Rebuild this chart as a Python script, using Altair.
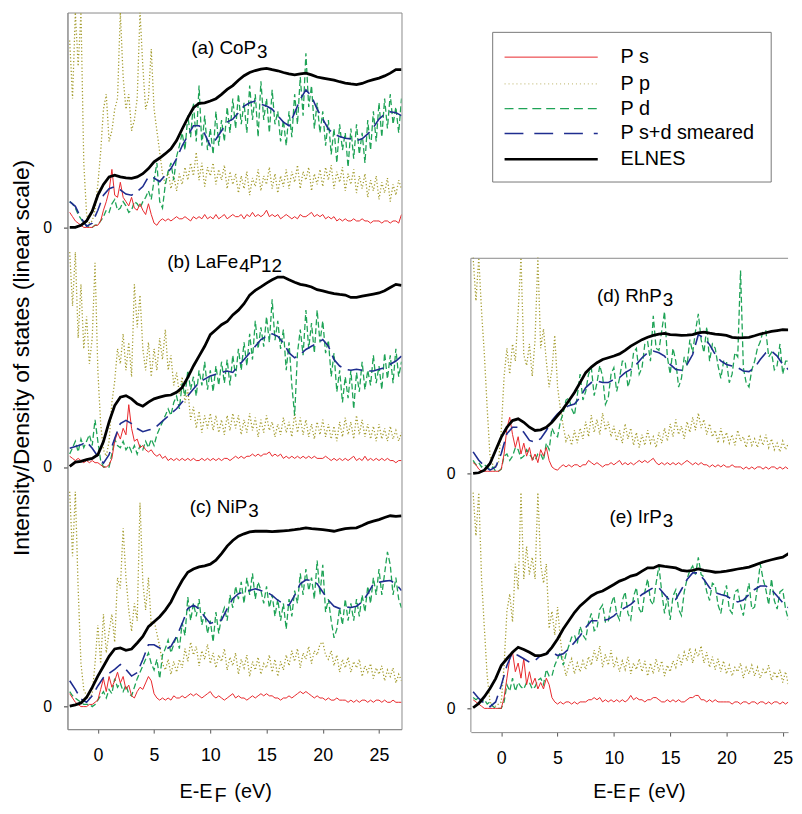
import altair as alt
import pandas as pd

# ---------------------------------------------------------------- energy grids (eV)
E_FINE = [round(-2.5 + 0.25 * i, 2) for i in range(119)]    # P s, P p, P d
E_COARSE = [round(-2.5 + 0.5 * i, 2) for i in range(60)]    # smeared, ELNES

SERIES = ["P s", "P p", "P d", "P s+d smeared", "ELNES"]
PANELS = ["a", "b", "c", "d", "e"]

# ---------------------------------------------------------------- (a) CoP3
A_EL = [0, 0, 1, 3, 7.5, 15, 20, 23.5, 24.3, 23.5,
        23, 22.8, 23.5, 25, 27.4, 30.5, 32.3, 34.3, 36.6, 40.4,
        45.8, 51, 55.7, 57.7, 58, 58.8, 59.9, 61.9, 64.2, 66,
        68.5, 70.6, 72.1, 73, 73.7, 74, 73.4, 72.9, 72.1, 71.5,
        71, 71.4, 71.8, 71, 70, 69.5, 69, 68.5, 67.8, 67.2,
        66.8, 66.5, 67, 68, 68.8, 69.5, 70.5, 71.8, 73.4, 73.4]
A_SM = [12, 9.8, 4.4, 0.6, 2, 8, 15, 18, 19, 17.5,
        15.5, 15, 16.7, 19, 23.6, 23, 21.3, 24.3, 27.4, 32,
        38, 42.7, 47.3, 47.3, 43.5, 38, 41, 45, 49, 50.4,
        53.4, 56.5, 58, 58.8, 57.3, 56.5, 55, 52, 49, 47.3,
        53.4, 59.6, 64, 61, 55, 50.4, 45.8, 43.5, 42.3, 41.5,
        41.2, 40.4, 41.2, 43.5, 46.5, 50.4, 52.7, 53.8, 53.4, 52]
A_PD = [12, 11, 9, 6, 4, 2, 1, 0, 0, 1,
        1, 3, 5, 8, 7, 11, 13, 8, 9, 12,
        10, 7, 8, 12, 11, 9, 12, 14, 17, 13,
        22, 30, 12, 9, 20, 26, 30, 22, 33, 38,
        44, 36, 52, 42, 58, 40, 66, 38, 52, 36,
        46, 34, 54, 38, 50, 40, 56, 44, 60, 46,
        62, 48, 58, 44, 66, 50, 62, 42, 68, 50,
        60, 44, 64, 48, 54, 40, 50, 38, 54, 42,
        62, 48, 70, 52, 81, 56, 66, 46, 58, 44,
        54, 38, 50, 34, 46, 30, 48, 36, 44, 28,
        46, 32, 48, 34, 44, 30, 50, 36, 54, 40,
        58, 42, 60, 46, 62, 48, 56, 44, 60]
A_PP = [87, 60, 100, 75, 100, 30, 6, 2, 3, 8,
        20, 35, 55, 62, 40, 45, 55, 60, 100, 70,
        55, 62, 45, 50, 60, 100, 75, 55, 60, 83,
        55, 45, 35, 25, 20, 26, 18, 24, 17, 25,
        20, 28, 22, 30, 24, 35, 22, 30, 19, 28,
        24, 30, 20, 27, 22, 29, 18, 26, 20, 25,
        16, 24, 18, 26, 15, 23, 19, 27, 17, 24,
        20, 28, 18, 25, 16, 24, 19, 27, 18, 26,
        21, 29, 18, 26, 22, 28, 17, 25, 20, 27,
        19, 28, 22, 29, 18, 26, 21, 28, 17, 25,
        20, 27, 16, 24, 18, 25, 14, 22, 17, 24,
        13, 21, 16, 23, 12, 20, 15, 22, 18]
A_PS = [7, 5, 3, 2, 1, 0, 0, 0, 0, 1,
        1, 3, 8, 12, 17, 27, 15, 14, 21, 14,
        12, 10, 14, 9, 8, 11, 8, 6, 11, 6,
        2, 1, 3, 4, 3, 4, 3, 4, 5, 4,
        4, 5, 4, 3, 5, 4, 5, 4, 6, 4,
        5, 4, 6, 4, 5, 6, 4, 5, 6, 5,
        5, 6, 4, 6, 5, 7, 5, 6, 5, 6,
        8, 5, 6, 5, 6, 4, 5, 6, 5, 4,
        5, 4, 6, 5, 5, 6, 7, 5, 6, 5,
        6, 4, 5, 4, 5, 3, 4, 3, 4, 3,
        3, 4, 3, 3, 4, 3, 3, 2, 3, 3,
        3, 2, 3, 3, 2, 3, 3, 2, 6]

# ---------------------------------------------------------------- (b) LaFe4P12
B_EL = [0.3, 2.3, 2.6, 3.4, 4, 5.7, 11.8, 21, 28.6, 32.5,
        33.2, 31.7, 29.4, 28.3, 30.2, 31.7, 32.5, 33.2, 33.5, 34.8,
        37, 41.7, 47, 51.6, 56.2, 61.6, 63.9, 66.2, 67.7, 70.8,
        73, 76, 80, 82.2, 83.8, 85.6, 87.1, 88.4, 88.4, 87.1,
        86, 85, 84.5, 83.8, 82.5, 82, 81.3, 80.7, 80.3, 80,
        78.9, 78.9, 79.5, 80, 80.5, 81, 82, 83.5, 85, 84.5]
B_SM = [8.7, 9.5, 10.3, 11.8, 8.7, 4.9, 1.8, 5.7, 13.3, 20.2,
        21.7, 20.2, 17.9, 16.4, 17.2, 17.9, 20.2, 22.5, 24.8, 27.1,
        30.2, 33.2, 36.3, 39.4, 40.9, 42.4, 43.2, 44, 44.7, 44,
        47, 50, 53.1, 56.2, 59.3, 60.8, 62, 60.8, 57.7, 53.1,
        50.8, 52.4, 54.7, 56.2, 57.7, 59.3, 56.2, 50, 47, 45.5,
        45, 45.5, 45, 44.7, 44.7, 45.5, 46.2, 47.8, 49.3, 51.6]
B_PD = [6, 9, 12, 7, 13, 9, 12, 15, 10, 22,
        12, 3, 0, 0, 0, 6, 13, 10, 9, 12,
        8, 10, 7, 10, 6, 10, 8, 12, 9, 13,
        10, 15, 18, 21, 24, 27, 24, 30, 33, 27,
        39, 33, 45, 36, 42, 33, 45, 38, 49, 36,
        45, 35, 47, 38, 49, 39, 50, 38, 52, 42,
        55, 45, 58, 47, 62, 50, 68, 55, 65, 56,
        70, 58, 78, 59, 68, 55, 64, 45, 58, 38,
        24, 53, 64, 52, 73, 55, 67, 53, 73, 58,
        68, 53, 59, 42, 53, 35, 45, 30, 42, 32,
        45, 27, 44, 35, 49, 36, 45, 38, 52, 39,
        47, 36, 53, 41, 52, 39, 55, 42, 49]
B_PP = [100, 75, 100, 60, 85, 55, 70, 48, 60, 95,
        45, 20, 8, 5, 12, 30, 40, 55, 48, 62,
        45, 58, 42, 85, 65, 80, 55, 45, 58, 42,
        55, 45, 60, 50, 64, 45, 52, 38, 44, 34,
        42, 30, 36, 22, 28, 18, 26, 16, 24, 18,
        25, 17, 24, 16, 22, 15, 24, 17, 25, 18,
        24, 15, 22, 16, 25, 17, 23, 14, 22, 16,
        24, 17, 21, 14, 20, 15, 23, 16, 21, 14,
        25, 16, 23, 15, 22, 14, 20, 13, 21, 15,
        22, 14, 20, 13, 19, 12, 21, 14, 23, 15,
        21, 13, 24, 15, 22, 14, 20, 13, 19, 12,
        20, 13, 18, 12, 19, 13, 17, 12, 16]
B_PS = [5, 4, 3, 4, 3, 2, 3, 2, 3, 2,
        2, 1, 0, 0, 1, 4, 12, 16, 13, 18,
        15, 29, 18, 12, 13, 9, 10, 8, 7, 8,
        6, 5, 6, 4, 5, 3, 4, 3, 4, 3,
        4, 3, 4, 3, 4, 3, 3, 4, 3, 4,
        3, 4, 3, 4, 3, 4, 4, 3, 4, 5,
        4, 5, 4, 5, 5, 6, 5, 6, 5, 6,
        6, 7, 5, 6, 5, 6, 4, 5, 4, 5,
        4, 5, 4, 5, 4, 5, 4, 5, 4, 4,
        4, 5, 4, 3, 4, 3, 4, 3, 4, 3,
        4, 5, 3, 4, 3, 5, 3, 4, 3, 4,
        3, 4, 3, 4, 3, 3, 2, 3, 3]

# ---------------------------------------------------------------- (c) NiP3
C_EL = [0.2, 0.8, 1.7, 4.3, 8.9, 14.2, 18.8, 23.4, 26.8, 27.3,
        26.2, 26.8, 29.6, 32.6, 37.2, 39.5, 41.8, 44.9, 48.7, 54,
        58.7, 62.5, 64, 65, 65.5, 66.3, 68.1, 71.2, 74.7, 77.3,
        79.3, 80.4, 81.3, 81.6, 81.6, 81.6, 81.4, 81.6, 81.8, 82,
        82.3, 82.7, 83.2, 82.8, 82.6, 82.4, 82, 81.6, 82.2, 82.8,
        83, 83.2, 84.3, 85.5, 86.3, 87, 88, 88.8, 88.5, 88.8]
C_SM = [12, 8, 3.5, 2, 5, 9.6, 13.5, 15.5, 17.3, 19.6,
        17.3, 14.2, 15.8, 21.9, 28.8, 28.8, 27.3, 26.5, 28, 32.6,
        38.7, 45.6, 47.2, 45.6, 41.8, 38.7, 39.5, 40.3, 45.6, 50.2,
        52.5, 53.3, 54, 54.8, 54, 53.3, 51.8, 49.5, 47.9, 47.2,
        51.8, 57.1, 59, 58.7, 57.1, 53.3, 49.5, 46.7, 45.6, 46.4,
        46.1, 46.7, 48.7, 52.5, 57.1, 57.9, 58.4, 58.7, 57.1, 54]
C_PD = [7, 5, 4, 3, 2, 1, 1, 1, 0, 1,
        3, 5, 7, 4, 8, 6, 13, 9, 11, 7,
        10, 6, 5, 9, 13, 16, 19, 22, 25, 20,
        17, 22, 13, 24, 27, 31, 25, 29, 33, 27,
        39, 33, 51, 40, 48, 42, 50, 38, 44, 34,
        40, 30, 44, 34, 42, 46, 40, 52, 46, 56,
        50, 58, 48, 60, 52, 62, 50, 58, 54, 48,
        56, 46, 52, 42, 50, 40, 48, 36, 50, 42,
        54, 48, 62, 52, 64, 54, 60, 50, 68, 52,
        66, 44, 50, 40, 32, 36, 46, 38, 50, 40,
        48, 40, 50, 42, 52, 44, 56, 48, 60, 52,
        64, 52, 62, 72, 66, 52, 60, 50, 46]
C_PP = [100, 70, 100, 55, 20, 8, 5, 4, 6, 20,
        38, 20, 43, 25, 35, 43, 30, 60, 55, 83,
        60, 45, 35, 48, 40, 95, 58, 45, 60, 38,
        40, 34, 28, 20, 17, 22, 15, 21, 16, 22,
        18, 27, 21, 30, 24, 28, 19, 26, 22, 29,
        20, 25, 18, 24, 21, 27, 17, 23, 19, 25,
        15, 22, 18, 24, 14, 21, 17, 23, 15, 20,
        18, 24, 16, 22, 14, 21, 17, 24, 19, 26,
        21, 27, 18, 25, 22, 28, 20, 26, 24, 29,
        30, 24, 22, 26, 19, 24, 16, 22, 18, 23,
        16, 21, 18, 22, 14, 19, 16, 20, 13, 18,
        15, 19, 12, 17, 14, 18, 11, 15, 12]
C_PS = [6, 4, 2, 1, 0, 0, 0, 1, 1, 2,
        3, 8, 13, 7, 14, 9, 12, 16, 11, 14,
        8, 10, 5, 4, 7, 9, 8, 11, 14, 12,
        6, 4, 3, 4, 3, 4, 3, 5, 4, 4,
        5, 4, 5, 6, 5, 6, 5, 4, 5, 6,
        7, 5, 4, 5, 4, 3, 4, 5, 6, 4,
        5, 4, 4, 3, 4, 5, 4, 5, 6, 5,
        6, 5, 5, 4, 4, 3, 4, 4, 5, 4,
        5, 6, 7, 6, 7, 6, 5, 4, 5, 4,
        4, 3, 4, 3, 3, 4, 3, 3, 3, 2,
        3, 2, 3, 2, 3, 3, 2, 3, 2, 3,
        3, 2, 3, 2, 2, 3, 2, 2, 2]

# ---------------------------------------------------------------- (d) RhP3
D_EL = [0, 0.3, 1.5, 4.6, 10.7, 16.8, 21.4, 24.5, 25.3, 23.7,
        21.4, 19.9, 20.2, 21.4, 23.7, 26.8, 29.9, 33.7, 37.5, 42.1,
        46.7, 49.3, 51.3, 52.8, 53.6, 54.4, 55.4, 57, 59, 60.5,
        62, 63.1, 64, 64.6, 64.9, 64.3, 64.2, 64, 64.1, 64.3,
        65.1, 65.5, 65, 64.6, 64.3, 64, 63.1, 62.8, 62.9, 63.1,
        63.8, 64.6, 65.2, 65.8, 66.2, 66.6, 66.5, 66.2, 66.2, 66.2]
D_SM = [10, 6.1, 3.4, 1.5, 3, 9.2, 18.4, 21.4, 21.4, 19.1,
        15.3, 14.5, 16.1, 19.9, 24.5, 27.6, 29.9, 31.4, 32.2, 35.2,
        39.8, 42.1, 42.9, 42.1, 42.1, 43.6, 44.4, 46.7, 48.2, 50.5,
        53.6, 55.9, 56.7, 55.9, 54.4, 50.5, 48.2, 47.8, 50.5, 55.1,
        64.3, 62.8, 59.7, 55.1, 52.1, 50.5, 49.8, 49, 47.5, 47.2,
        49, 52.8, 55.9, 56.7, 54.4, 50.5, 48.2, 47.5, 47.2, 47]
D_PD = [6, 4, 5, 3, 4, 3, 2, 3, 1, 1,
        2, 8, 9, 6, 8, 12, 11, 7, 8, 11,
        9, 7, 6, 9, 9, 6, 14, 11, 21, 18,
        17, 24, 28, 34, 35, 30, 27, 36, 46, 34,
        38, 46, 49, 36, 42, 50, 45, 32, 35, 46,
        49, 38, 44, 52, 52, 40, 45, 56, 58, 46,
        49, 60, 61, 52, 73, 58, 57, 66, 75, 54,
        46, 58, 52, 40, 44, 54, 50, 62, 56, 66,
        74, 62, 56, 68, 52, 60, 58, 50, 44, 52,
        52, 42, 46, 56, 54, 94, 49, 42, 40, 48,
        52, 58, 61, 66, 66, 54, 56, 48, 50, 60,
        46, 52, 52, 44, 42, 50, 48, 44, 46]
D_PP = [100, 80, 100, 75, 55, 30, 8, 4, 3, 5,
        20, 45, 58, 46, 60, 52, 75, 100, 55, 50,
        60, 45, 62, 100, 58, 67, 52, 40, 48, 64,
        40, 30, 22, 15, 18, 13, 20, 14, 21, 16,
        24, 17, 27, 19, 25, 18, 28, 20, 24, 17,
        22, 15, 20, 14, 23, 16, 21, 13, 19, 12,
        18, 13, 20, 14, 17, 12, 19, 14, 21, 15,
        23, 17, 25, 18, 22, 16, 24, 19, 26, 20,
        28, 21, 25, 18, 23, 17, 20, 14, 21, 15,
        19, 14, 18, 13, 20, 15, 17, 12, 18, 13,
        16, 12, 17, 13, 18, 12, 16, 11, 14, 10,
        15, 11, 14, 10, 13, 11, 12, 10, 12]
D_PS = [5, 4, 2, 1, 1, 1, 1, 1, 1, 1,
        2, 9, 21, 26, 18, 12, 17, 9, 14, 8,
        12, 6, 9, 5, 11, 8, 12, 6, 3, 2,
        1.5, 3, 4, 3, 4, 3, 4, 4, 3, 4,
        4, 6, 5, 4, 5, 4, 3, 4, 4, 5,
        4, 5, 6, 4, 5, 4, 5, 4, 5, 6,
        5, 6, 5, 6, 7, 5, 4, 5, 4, 5,
        4, 5, 4, 5, 4, 5, 6, 5, 4, 5,
        4, 5, 4, 4, 3, 4, 3, 4, 3, 4,
        3, 3, 4, 3, 3, 3, 2, 3, 2, 3,
        2, 3, 3, 2, 3, 2, 3, 3, 2, 3,
        2, 3, 2, 3, 3, 2, 3, 3, 3]

# ---------------------------------------------------------------- (e) IrP3
E_EL = [0.3, 2.3, 5.4, 9.2, 13.8, 19.9, 23, 26, 28.3, 27.3,
        26, 24.5, 24.5, 25.3, 28.3, 32.2, 36.8, 40.6, 44.4, 47.5,
        49.8, 52.1, 53.6, 54.4, 55.9, 57.4, 59, 60, 61.3, 62,
        63.6, 65.1, 65.1, 66.2, 65.8, 65.5, 65.1, 64, 63.6, 64,
        64.6, 64, 63.6, 63.1, 63.3, 63.6, 64.1, 64.6, 65, 65.5,
        66.4, 67.4, 68.2, 68.9, 69.5, 70.1, 71.7, 71.2, 70.5, 70.5]
E_SM = [7.7, 4.6, 2.3, 0.8, 3, 10.7, 19.9, 26, 24.5, 23,
        21.4, 22.2, 24.5, 25.3, 26, 24.5, 25.3, 27.6, 30.6, 33.7,
        37.5, 40.6, 40.6, 40.6, 41.3, 42.9, 45.2, 46.7, 48.2, 50.5,
        52.8, 54.4, 55.9, 55.9, 52.8, 49.8, 50.5, 55.1, 59.7, 62.8,
        62.8, 59.7, 55.9, 53.6, 52.8, 52.1, 50.5, 49.3, 50.2, 52.8,
        55.1, 56.7, 56.7, 55.1, 52.1, 49, 46.7, 45.2, 44.5, 44]
E_PD = [5, 4, 5, 3, 4, 2, 3, 1, 0, 0,
        0, 3, 11, 8, 14, 8, 12, 10, 9, 12,
        12, 9, 10, 13, 14, 11, 18, 15, 15, 20,
        23, 26, 20, 25, 29, 33, 34, 30, 38, 34,
        32, 40, 44, 36, 37, 46, 48, 40, 40, 48,
        52, 44, 41, 50, 54, 44, 41, 52, 56, 46,
        44, 54, 60, 50, 48, 58, 66, 54, 44, 52,
        41, 52, 55, 46, 43, 54, 60, 64, 66, 62,
        70, 62, 61, 54, 50, 58, 57, 48, 44, 52,
        57, 46, 44, 54, 55, 48, 43, 52, 58, 46,
        47, 56, 67, 60, 55, 48, 60, 50, 46, 54,
        55, 46, 41, 50, 50, 42, 40, 48, 44]
E_PP = [100, 80, 100, 60, 37, 15, 3, 1, 1, 2,
        3, 20, 45, 53, 40, 67, 55, 100, 60, 75,
        62, 70, 60, 100, 67, 58, 67, 37, 45, 34,
        47, 32, 22, 15, 20, 23, 16, 21, 17, 22,
        18, 24, 20, 27, 22, 29, 19, 25, 20, 27,
        19, 23, 17, 22, 18, 24, 16, 21, 18, 23,
        17, 22, 15, 21, 16, 23, 17, 22, 15, 20,
        17, 22, 19, 25, 20, 26, 22, 28, 21, 27,
        24, 29, 21, 26, 19, 24, 18, 23, 17, 22,
        16, 20, 15, 19, 17, 21, 14, 19, 16, 20,
        15, 19, 14, 18, 16, 20, 13, 17, 14, 18,
        12, 17, 11, 16, 13, 17, 11, 15, 12]
E_PS = [4, 3, 2, 1, 0, 0, 0, 0, 0, 0,
        0, 5, 14, 23, 26, 17, 21, 14, 23, 11,
        17, 11, 14, 9, 12, 9, 14, 11, 5, 3,
        2, 3, 2, 3, 3, 2, 3, 2, 3, 3,
        3, 4, 4, 5, 4, 5, 3, 4, 3, 4,
        3, 4, 3, 4, 3, 4, 6, 4, 5, 4,
        4, 3, 4, 4, 5, 5, 4, 3, 3, 4,
        3, 4, 3, 4, 3, 3, 4, 5, 5, 6,
        6, 4, 4, 3, 4, 3, 4, 3, 3, 3,
        3, 3, 2, 3, 3, 2, 3, 3, 2, 3,
        3, 2, 3, 3, 2, 3, 2, 3, 3, 2,
        3, 2, 3, 3, 2, 3, 3, 2, 3]

PANEL_DATA = {
    "a": {"P s": A_PS, "P p": A_PP, "P d": A_PD, "P s+d smeared": A_SM, "ELNES": A_EL},
    "b": {"P s": B_PS, "P p": B_PP, "P d": B_PD, "P s+d smeared": B_SM, "ELNES": B_EL},
    "c": {"P s": C_PS, "P p": C_PP, "P d": C_PD, "P s+d smeared": C_SM, "ELNES": C_EL},
    "d": {"P s": D_PS, "P p": D_PP, "P d": D_PD, "P s+d smeared": D_SM, "ELNES": D_EL},
    "e": {"P s": E_PS, "P p": E_PP, "P d": E_PD, "P s+d smeared": E_SM, "ELNES": E_EL},
}
FINE_SERIES = {"P s", "P p", "P d"}

# ---------------------------------------------------------------- layout (not data)
OFFSETS = {"a": 223.0, "b": 111.5, "c": 0.0, "d": 108.9, "e": 0.0}

rows = []
for panel, smap in PANEL_DATA.items():
    for s, vals in smap.items():
        grid = E_FINE if s in FINE_SERIES else E_COARSE
        for e, v in zip(grid, vals):
            rows.append({"panel": panel, "series": s, "E": e, "y": v + OFFSETS[panel]})
DF = pd.DataFrame(rows)

FONT = "Liberation Sans"
GREY = "#8a8a8a"
STYLE = {
    "P p": dict(color="#a39b2c", strokeWidth=1.3, strokeDash=[1.2, 2.2]),
    "P d": dict(color="#1ea356", strokeWidth=1.3, strokeDash=[6, 3]),
    "P s": dict(color="#e8262b", strokeWidth=1.0),
    "P s+d smeared": dict(color="#1f2d8f", strokeWidth=1.6, strokeDash=[15, 7]),
    "ELNES": dict(color="#000000", strokeWidth=2.8),
}
LEGEND_STYLE = {
    "P s": dict(color="#e8262b", strokeWidth=1.0),
    "P p": dict(color="#b8b060", strokeWidth=1.0, strokeDash=[1, 3]),
    "P d": dict(color="#1ea356", strokeWidth=1.2, strokeDash=[9, 5]),
    "P s+d smeared": dict(color="#1f2d8f", strokeWidth=1.4, strokeDash=[19, 11]),
    "ELNES": dict(color="#000000", strokeWidth=2.5),
}
DRAW_ORDER = ["P p", "P d", "P s", "P s+d smeared", "ELNES"]

LABELS = {
    "a": (14.07, 303.6, [("(a) CoP", 0, 0, "right"), ("3", 1, 4, "left")]),
    "b": (12.49, 204.0, [("(b) LaFe", 0, 0, "right"), ("4", 1, 4, "left"),
                          ("P", 11, 0, "left"), ("12", 23, 4, "left")]),
    "c": (13.28, 90.1, [("(c) NiP", 0, 0, "right"), ("3", 1, 4, "left")]),
    "d": (14.26, 188.4, [("(d) RhP", 0, 0, "right"), ("3", 1, 4, "left")]),
    "e": (14.26, 86.0, [("(e) IrP", 0, 0, "right"), ("3", 1, 4, "left")]),
}
XTITLE = [("E-E", 0, 0, "right"), ("F", 2, 4, "left"), ("(eV)", 22, 0, "left")]


def text_layer(txt, x_enc, y_enc, dx, dy, align, size, baseline="alphabetic"):
    return alt.Chart(pd.DataFrame({"t": [txt]})).mark_text(
        align=align, baseline=baseline, dx=dx, dy=dy, fontSize=size,
        font=FONT, color="black").encode(x=x_enc, y=y_enc, text="t:N")


def column(panels, x_dom, y_dom, zeros, y_title, xt_anchor, xt_y, y_domain_line):
    sub = DF[DF["panel"].isin(panels)]
    x_axis = alt.Axis(values=[0, 5, 10, 15, 20, 25], title=None, grid=False,
                      tickSize=4, tickColor="#555555", domainColor=GREY,
                      labelFontSize=18, labelFont=FONT, labelColor="black",
                      labelPadding=14)
    y_kw = dict(values=zeros, labelExpr="'0'", grid=False, tickSize=4,
                tickColor="#333333", domain=y_domain_line, domainColor=GREY,
                labelFontSize=16, labelFont=FONT, labelColor="black", labelPadding=12)
    if y_title:
        y_axis = alt.Axis(title=y_title, titleFont=FONT, titleFontSize=23,
                          titleFontWeight="normal", titleColor="black",
                          titlePadding=9, titleY=348, **y_kw)
    else:
        y_axis = alt.Axis(title=None, **y_kw)
    x_enc = alt.X("E:Q", scale=alt.Scale(domain=x_dom, nice=False, zero=False), axis=x_axis)
    y_enc = alt.Y("y:Q", scale=alt.Scale(domain=y_dom, nice=False, zero=False), axis=y_axis)

    layers = []
    for s in DRAW_ORDER:
        layers.append(
            alt.Chart(sub).transform_filter(alt.datum.series == s)
            .mark_line(clip=True, **STYLE[s])
            .encode(x=x_enc, y=y_enc, detail="panel:N", order="E:Q")
        )
    for p in panels:
        ex, ey, pieces = LABELS[p]
        for txt, dx, dy, al in pieces:
            layers.append(text_layer(txt, alt.XDatum(ex), alt.YDatum(ey), dx, dy, al, 19))
    for txt, dx, dy, al in XTITLE:
        layers.append(text_layer(txt, alt.XDatum(xt_anchor), alt.value(xt_y), dx, dy, al, 20))
    return layers


# ---------------------------------------------------------------- left column (a, b, c)
left_layers = column(["a", "b", "c"], [-2.7, 27], [-10.5, 323], [0, 111.5, 223],
                     "Intensity/Density of states (linear scale)", 10.2, 792, True)
left = alt.layer(*left_layers).properties(
    width=337, height=723, view=alt.ViewBackground(stroke=GREY, strokeWidth=1))

# ---------------------------------------------------------------- right column (d, e) + legend
W_R, H_R = 320, 726
R_XDOM = [-2.7, 25.47]
R_YDOM = [-11, 322.5]
R_TOP = 208.6      # top of panel (d) frame, in y units
right_layers = column(["d", "e"], R_XDOM, R_YDOM, [0, 108.9],
                      None, 11.1, 792, False)
one = pd.DataFrame({"k": [0]})
# panel frame: top and left lines (only over the panel region)
right_layers.append(alt.Chart(one).mark_rule(color=GREY, strokeWidth=1).encode(
    x=alt.XDatum(R_XDOM[0]), x2=alt.X2Datum(R_XDOM[1]), y=alt.YDatum(R_TOP)))
right_layers.append(alt.Chart(one).mark_rule(color=GREY, strokeWidth=1).encode(
    x=alt.XDatum(R_XDOM[0]), y=alt.YDatum(R_YDOM[0]), y2=alt.Y2Datum(R_TOP)))
# legend box
right_layers.append(alt.Chart(one).mark_rect(fill="white", stroke="#777777", strokeWidth=1).encode(
    x=alt.value(22), x2=alt.value(303), y=alt.value(20), y2=alt.value(171)))
LEG_ROWS = [45, 72, 97, 122, 148]
for s, yy in zip(SERIES, LEG_ROWS):
    right_layers.append(alt.Chart(one).mark_rule(**LEGEND_STYLE[s]).encode(
        x=alt.value(34), x2=alt.value(128), y=alt.value(yy)))
    right_layers.append(text_layer(s, alt.value(151), alt.value(yy), 0, 0, "left", 20, "middle"))

right = alt.layer(*right_layers).properties(
    width=W_R, height=H_R, view=alt.ViewBackground(stroke="transparent"))

chart = alt.hconcat(left, right, spacing=43).properties(
    padding={"left": 2, "top": 0, "right": 0, "bottom": 0}, background="white")

chart.save("out.html", embed_options={"renderer": "svg", "actions": False})
